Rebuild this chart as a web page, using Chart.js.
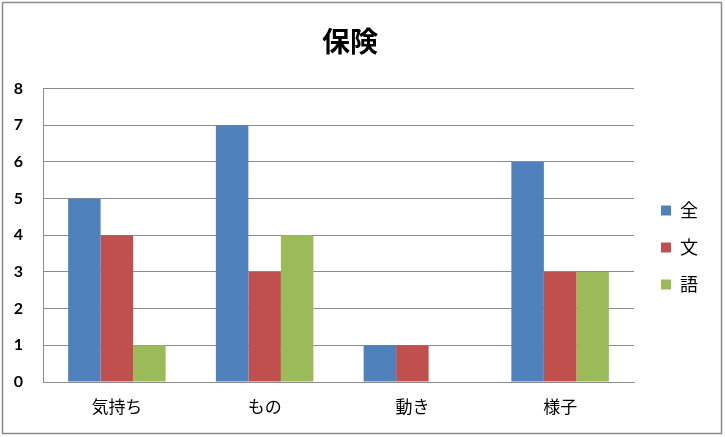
<!DOCTYPE html>
<html><head><meta charset="utf-8">
<script src="https://cdn.jsdelivr.net/npm/chart.js@4/dist/chart.umd.min.js"></script>
<style>html,body{margin:0;padding:0;background:#fff;}#wrap{width:725px;height:437px;position:relative;}</style>
</head><body><div id="wrap"><canvas id="c" width="725" height="437"></canvas></div>
<script>
const title = "保険";
const categories = ["気持ち", "もの", "動き", "様子"];
const seriesNames = ["全", "文", "語"];
const valuesZen = [5, 7, 1, 6];
const valuesBun = [4, 3, 1, 3];
const valuesGo = [1, 4, 0, 3];
const yTicks = [0, 1, 2, 3, 4, 5, 6, 7, 8];
const colors = ["#4F81BD", "#C0504D", "#9BBB59"];

const FONT = "Lato, 'Noto Sans CJK JP', sans-serif";
const JFONT = "'Noto Sans CJK JP', sans-serif";

const borderPlugin = {
  id: 'outerBorder',
  beforeDraw(chart) {
    const ctx = chart.ctx;
    ctx.save();
    ctx.fillStyle = '#fff';
    ctx.fillRect(0, 0, chart.width, chart.height);
    ctx.strokeStyle = '#8a8a8a';
    ctx.lineWidth = 1.5;
    ctx.strokeRect(2.5, 2.5, 719, 431);
    ctx.restore();
  }
};

// nudge the legend block to where the reference places it
const legendShift = {
  id: 'legendShift',
  afterLayout(chart) {
    const lg = chart.legend;
    if (!lg) return;
    const dx = 8, dy = 29;
    lg.left += dx; lg.right += dx;
    lg.top += dy; lg.bottom += dy;
  }
};

new Chart(document.getElementById('c'), {
  type: 'bar',
  data: {
    labels: categories,
    datasets: [
      { label: seriesNames[0], data: valuesZen, backgroundColor: colors[0] },
      { label: seriesNames[1], data: valuesBun, backgroundColor: colors[1] },
      { label: seriesNames[2], data: valuesGo, backgroundColor: colors[2] }
    ]
  },
  options: {
    responsive: false,
    animation: false,
    devicePixelRatio: 1,
    layout: { padding: { left: 0, right: 25, top: 0, bottom: 0 } },
    datasets: { bar: { categoryPercentage: 0.66, barPercentage: 1.0 } },
    plugins: {
      title: {
        display: true, text: title,
        font: { family: JFONT, size: 28, weight: 'bold' },
        color: '#000',
        padding: { top: 25, bottom: 30 }
      },
      legend: {
        position: 'right',
        labels: {
          boxWidth: 10, boxHeight: 10,
          font: { family: JFONT, size: 18 },
          color: '#000',
          padding: 19
        }
      },
      tooltip: { enabled: false }
    },
    scales: {
      y: {
        min: 0, max: 8,
        afterBuildTicks(scale) { scale.ticks = yTicks.map(v => ({ value: v })); },
        afterFit(scale) { scale.width = 43; },
        ticks: { font: { family: FONT, size: 16, weight: 'bold' }, color: '#000', padding: 20 },
        grid: { color: '#8c8c8c', lineWidth: 1, drawTicks: false },
        border: { color: '#8c8c8c', width: 1 }
      },
      x: {
        afterFit(scale) { scale.height = 55; },
        ticks: { font: { family: JFONT, size: 17 }, color: '#000', padding: 14 },
        grid: { display: false, drawTicks: false },
        border: { color: '#8c8c8c', width: 1 }
      }
    }
  },
  plugins: [borderPlugin, legendShift]
});
</script></body></html>
